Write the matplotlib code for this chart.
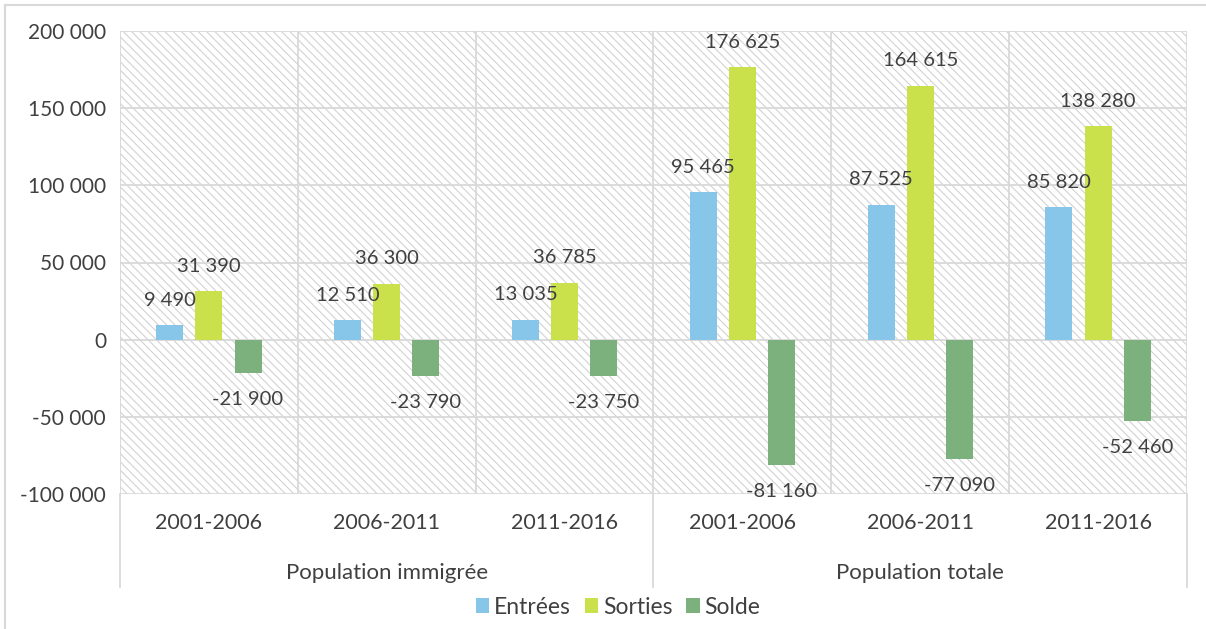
import matplotlib.pyplot as plt
import matplotlib.transforms as mtransforms
from matplotlib.lines import Line2D
from matplotlib.patches import Rectangle
from matplotlib.ticker import FuncFormatter
import numpy as np

plt.rcParams['font.family'] = ['Lato', 'DejaVu Sans']
plt.rcParams['hatch.linewidth'] = 0.8

# Données (migrations interprovinciales)
periodes = ['2001-2006', '2006-2011', '2011-2016', '2001-2006', '2006-2011', '2011-2016']
groupes = ['Population immigrée', 'Population totale']
entrees = [9490, 12510, 13035, 95465, 87525, 85820]
sorties = [31390, 36300, 36785, 176625, 164615, 138280]
solde = [-21900, -23790, -23750, -81160, -77090, -52460]

series = [('Entrées', entrees, '#87C6E8'),
          ('Sorties', sorties, '#CAE14C'),
          ('Solde', solde, '#7CB07C')]

TXT = '#404040'
GRID = '#D9D9D9'


def fmt(v):
    s = f'{abs(int(v)):,}'.replace(',', ' ')
    return ('-' if v < 0 else '') + s


fig = plt.figure(figsize=(12.06, 6.29), dpi=100)
ax = fig.add_axes([120 / 1206, 1 - 494 / 629, (1187 - 120) / 1206, (494 - 31) / 629])

# fond hachuré
ax.add_patch(Rectangle((0, 0), 1, 1, transform=ax.transAxes, facecolor='white',
                       edgecolor='#D2D2D2', hatch='\\\\\\\\', linewidth=0, zorder=0))

x = np.arange(len(periodes))
offsets = [-0.22, 0.0, 0.22]
w = 0.152
for (nom, vals, col), off in zip(series, offsets):
    bars = ax.bar(x + off, vals, w, color=col, label=nom, zorder=3)
    for b, v in zip(bars, vals):
        dy = 18 if v >= 0 else -19
        ax.annotate(fmt(v), (b.get_x() + b.get_width() / 2, v), xytext=(0, dy),
                    textcoords='offset points', ha='center', va='center',
                    fontsize=14.5, color=TXT, zorder=4)

ax.set_xlim(-0.5, 5.5)
ax.set_ylim(-100000, 200000)
ax.set_yticks(np.arange(-100000, 200001, 50000))
ax.yaxis.set_major_formatter(FuncFormatter(lambda v, p: fmt(v)))
ax.tick_params(axis='y', length=0, pad=10, labelsize=15, labelcolor=TXT)
ax.set_xticks([])
for s in ax.spines.values():
    s.set_visible(False)

for yv in np.arange(-100000, 200001, 50000):
    ax.axhline(yv, color=GRID, lw=1.3, zorder=1)
for xv in np.arange(-0.5, 6, 1):
    ax.axvline(xv, color=GRID, lw=1.3, zorder=1)

# étiquettes de catégories à deux niveaux
trans = mtransforms.blended_transform_factory(ax.transData, ax.transAxes)
h = 494 - 31
for i, p in enumerate(periodes):
    ax.text(i, -(523 - 494) / h, p, transform=trans, ha='center', va='center',
            fontsize=15.5, color=TXT)
for j, g in enumerate(groupes):
    ax.text(3 * j + 1, -(573 - 494) / h, g, transform=trans, ha='center', va='center',
            fontsize=16, color=TXT)
for xv in [-0.5, 2.5, 5.5]:
    ax.plot([xv, xv], [0, -(587 - 494) / h], transform=trans, color=GRID, lw=1.3,
            clip_on=False)

# bordure de la zone de graphique
fig.add_artist(Line2D([5 / 1206, 1], [1 - 5 / 629] * 2, transform=fig.transFigure, color=GRID, lw=1.5))
fig.add_artist(Line2D([5 / 1206] * 2, [0, 1 - 5 / 629], transform=fig.transFigure, color=GRID, lw=1.5))

fig.legend(loc='center', bbox_to_anchor=(618 / 1206, 1 - 607 / 629), ncol=3, frameon=False,
           fontsize=16.5, labelcolor=TXT, handlelength=0.6, handleheight=0.6,
           handletextpad=0.2, columnspacing=0.6, borderpad=0)

fig.savefig('out.png', dpi=100)
